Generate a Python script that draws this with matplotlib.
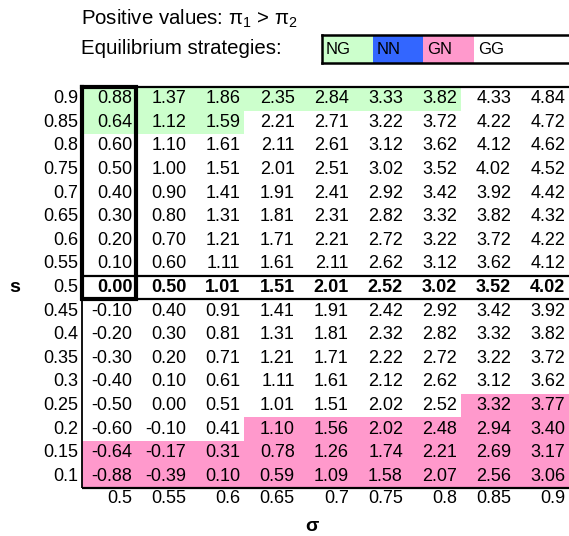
import numpy as np
import matplotlib.pyplot as plt
from matplotlib.colors import ListedColormap

plt.rcParams['font.family'] = ['Liberation Sans', 'DejaVu Sans']
plt.rcParams['mathtext.fontset'] = 'custom'
plt.rcParams['mathtext.rm'] = 'Liberation Sans'
plt.rcParams['mathtext.it'] = 'Liberation Sans'

# s (rows, top to bottom) and sigma (columns)
s_labels = ['0.9', '0.85', '0.8', '0.75', '0.7', '0.65', '0.6', '0.55', '0.5',
            '0.45', '0.4', '0.35', '0.3', '0.25', '0.2', '0.15', '0.1']
sigma_labels = ['0.5', '0.55', '0.6', '0.65', '0.7', '0.75', '0.8', '0.85', '0.9']

values = [
    [0.88, 1.37, 1.86, 2.35, 2.84, 3.33, 3.82, 4.33, 4.84],
    [0.64, 1.12, 1.59, 2.21, 2.71, 3.22, 3.72, 4.22, 4.72],
    [0.60, 1.10, 1.61, 2.11, 2.61, 3.12, 3.62, 4.12, 4.62],
    [0.50, 1.00, 1.51, 2.01, 2.51, 3.02, 3.52, 4.02, 4.52],
    [0.40, 0.90, 1.41, 1.91, 2.41, 2.92, 3.42, 3.92, 4.42],
    [0.30, 0.80, 1.31, 1.81, 2.31, 2.82, 3.32, 3.82, 4.32],
    [0.20, 0.70, 1.21, 1.71, 2.21, 2.72, 3.22, 3.72, 4.22],
    [0.10, 0.60, 1.11, 1.61, 2.11, 2.62, 3.12, 3.62, 4.12],
    [0.00, 0.50, 1.01, 1.51, 2.01, 2.52, 3.02, 3.52, 4.02],
    [-0.10, 0.40, 0.91, 1.41, 1.91, 2.42, 2.92, 3.42, 3.92],
    [-0.20, 0.30, 0.81, 1.31, 1.81, 2.32, 2.82, 3.32, 3.82],
    [-0.30, 0.20, 0.71, 1.21, 1.71, 2.22, 2.72, 3.22, 3.72],
    [-0.40, 0.10, 0.61, 1.11, 1.61, 2.12, 2.62, 3.12, 3.62],
    [-0.50, 0.00, 0.51, 1.01, 1.51, 2.02, 2.52, 3.32, 3.77],
    [-0.60, -0.10, 0.41, 1.10, 1.56, 2.02, 2.48, 2.94, 3.40],
    [-0.64, -0.17, 0.31, 0.78, 1.26, 1.74, 2.21, 2.69, 3.17],
    [-0.88, -0.39, 0.10, 0.59, 1.09, 1.58, 2.07, 2.56, 3.06],
]

# equilibrium strategy per cell: n=NG, b=NN, p=GN, .=GG
strategy_rows = [
    'nnnnnnn..',
    'nnn......',
    '.........',
    '.........',
    '.........',
    '.........',
    '.........',
    '.........',
    '.........',
    '.........',
    '.........',
    '.........',
    '.........',
    '.......pp',
    '...pppppp',
    'ppppppppp',
    'ppppppppp',
]
strategy_names = ['NG', 'NN', 'GN', 'GG']
strategy_colors = ['#ccffcc', '#3366ff', '#ff99cc', '#ffffff']
code = {'n': 0, 'b': 1, 'p': 2, '.': 3}

W, H = 569, 536
fig = plt.figure(figsize=(W / 100, H / 100), dpi=100)

# main grid
gl, gr, gt, gb = 82, 569, 87, 488
ax = fig.add_axes([gl / W, 1 - gb / H, (gr - gl) / W, (gb - gt) / H])
nrows, ncols = len(s_labels), len(sigma_labels)
cats = np.array([[code[c] for c in r] for r in strategy_rows])
cmap = ListedColormap(strategy_colors)
ax.pcolormesh(np.arange(ncols + 1), np.arange(nrows + 1), cats, cmap=cmap,
              vmin=-0.5, vmax=3.5)
ax.set_xlim(0, 9)
ax.set_ylim(nrows, 0)
ax.axis('off')

bold_row = s_labels.index('0.5')
pad = 0.07
for i in range(nrows):
    w = 'bold' if i == bold_row else 'normal'
    for j in range(ncols):
        ax.text(j + 1 - pad, i + 0.5, f"{values[i][j]:.2f}", ha='right',
                va='center', fontsize=13, fontweight=w)
    ax.text(-pad, i + 0.5, s_labels[i], ha='right', va='center', fontsize=13)
for j in range(ncols):
    ax.text(j + 1 - pad, nrows + 0.45, sigma_labels[j], ha='right',
            va='center', fontsize=13)

ax.text(-1.24, bold_row + 0.5, 's', ha='center', va='center', fontsize=14,
        fontweight='bold')
ax.text(4.25, nrows + 1.65, 'σ', ha='center', va='center', fontsize=14,
        fontweight='bold')

# lines
k = dict(color='black', clip_on=False, solid_capstyle='butt')
ax.plot([0, 0, 1, 1, 0], [0, bold_row + 1, bold_row + 1, 0, 0], lw=3,
        color='black', clip_on=False, solid_joinstyle='miter')
ax.plot([1, 9], [0, 0], lw=1.6, **k)
ax.plot([0, 9], [bold_row, bold_row], lw=1.6, **k)
ax.plot([0, 9], [bold_row + 1, bold_row + 1], lw=1.6, **k)
ax.plot([0, 0], [bold_row + 1, nrows], lw=1.3, **k)
ax.plot([0, 9], [nrows, nrows], lw=1.6, **k)

# header
fig.text(81 / W, 1 - 19 / H, r'Positive values: $\mathregular{\pi_1}$ > $\mathregular{\pi_2}$',
         fontsize=14.7, va='center', ha='left')
fig.text(81 / W, 1 - 49 / H, 'Equilibrium strategies:', fontsize=14.7,
         va='center', ha='left')

# legend strip
ll, lr, lt, lb = 322, 569, 35, 63
lax = fig.add_axes([ll / W, 1 - lb / H, (lr - ll) / W, (lb - lt) / H])
cw = 50.7
lax.barh(0, [1, 1, 1, 2], left=[0, 1, 2, 3], height=1, color=strategy_colors)
for n, name in enumerate(strategy_names):
    lax.text(n + 0.08, 0, name, ha='left', va='center', fontsize=12)
lax.set_xlim(0, (lr - ll) / cw)
lax.set_ylim(-0.5, 0.5)
lax.set_xticks([])
lax.set_yticks([])
for side in ('top', 'bottom', 'left'):
    lax.spines[side].set_linewidth(1.8)
lax.spines['right'].set_visible(False)

fig.savefig('out.png', dpi=100)
